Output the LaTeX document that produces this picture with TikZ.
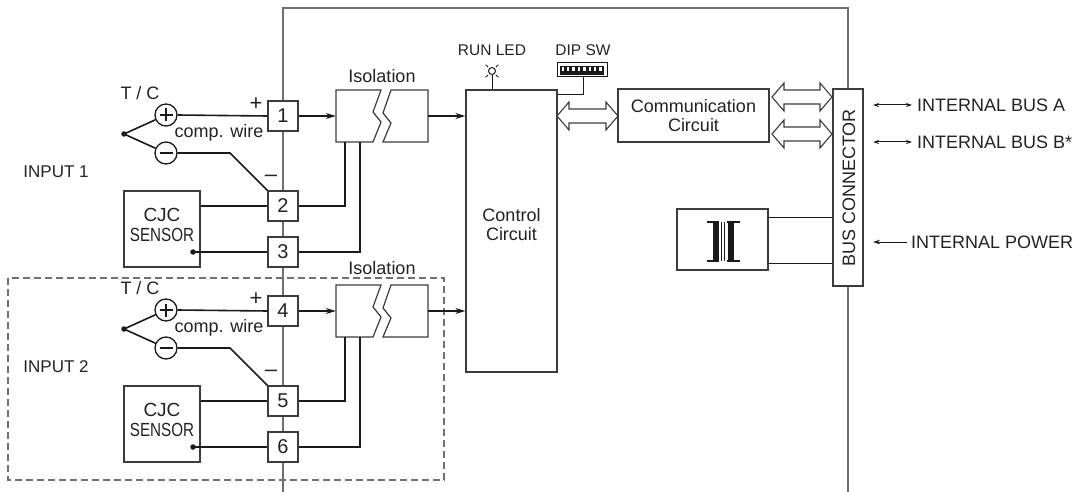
\documentclass[tikz,border=0pt]{standalone}
\usepackage{fontspec}
\setmainfont{Liberation Sans}
\usetikzlibrary{arrows.meta,calc}
\definecolor{boxc}{HTML}{3C3C3C}
\definecolor{wirec}{HTML}{1A1A1A}
\definecolor{framec}{HTML}{707070}
\definecolor{txtc}{HTML}{222222}
\newcommand\hollowdbl[3]{%
  \draw[boxc,line width=1.1pt,fill=white] (#1,#3) -- ++(12,-14) -- ++(0,7) -- ({#2-12},{#3-7}) -- ++(0,-7) -- (#2,#3) -- ++(-12,14) -- ++(0,-7) -- ({#1+12},{#3+7}) -- ++(0,7) -- cycle;}
\begin{document}
\begin{tikzpicture}[x=1pt,y=-1pt,
  box/.style={draw=boxc,line width=1.2pt,fill=white,inner sep=0pt},
  term/.style={box,minimum width=30pt,minimum height=30pt,font=\fontsize{20}{22}\selectfont,text=txtc},
  wire/.style={line width=1.6pt,draw=wirec},
  lbl/.style={font=\fontsize{18}{19}\selectfont,text=txtc,inner sep=0pt},
  small/.style={font=\fontsize{15.5}{17}\selectfont,text=txtc,inner sep=0pt},
  pm/.style={circle,draw=wirec,line width=1.3pt,fill=white,minimum size=22pt,inner sep=0pt},
  jdot/.style={circle,fill=wirec,minimum size=5.5pt,inner sep=0pt},
  arr/.style={line width=1.6pt,draw=wirec,-{Stealth[length=10pt,width=6pt]}},
  thin/.style={line width=1pt,draw=wirec}
]
\useasboundingbox (0,0) rectangle (1079,492);

% frame
\draw[framec,line width=1.4pt] (283,492) -- (283,8) -- (848,8) -- (848,89);
\draw[framec,line width=1.4pt] (848,286) -- (848,492);

% dashed box for input 2
\draw[framec,line width=1.2pt,dash pattern=on 7pt off 4pt] (8,278) rectangle (444,480);

% input labels
\node[lbl,font=\fontsize{17}{18}\selectfont] (in1) at (56,172) {INPUT 1};
\node[lbl,font=\fontsize{17}{18}\selectfont] (in2) at (56,367) {INPUT 2};

\foreach \i/\dy/\a/\b/\c/\ly in {1/0/1/2/3/76, 2/195/4/5/6/73} {
\begin{scope}[shift={(0,\dy)}]
  \node[term] (t\a) at (283,116) {\a};
  \node[term] (t\b) at (283,206) {\b};
  \node[term] (t\c) at (283,252) {\c};
  % thermocouple
  \node[lbl] (tc\i) at (140,93) {T / C};
  \node[pm] (pl\i) at (166,115) {};
  \node[pm] (mi\i) at (166,153) {};
  \draw[wirec,line width=1.3pt] ([xshift=-6.5pt]pl\i.center) -- ([xshift=6.5pt]pl\i.center)
        ([yshift=-6.5pt]pl\i.center) -- ([yshift=6.5pt]pl\i.center);
  \draw[wirec,line width=1.3pt] ([xshift=-6.5pt]mi\i.center) -- ([xshift=6.5pt]mi\i.center);
  \node[jdot] (j\i) at (124,134) {};
  \draw[wire] (j\i.center) -- (pl\i);
  \draw[wire] (j\i.center) -- (mi\i);
  \draw[wire] (pl\i.east) -- (t\a.west);
  \coordinate (bend\i) at (230,153);
  \draw[wire] (mi\i.east) -- (bend\i) -- (t\b.north west);
  \node[lbl] (cw\i) at (219,133) {comp. wire};
  \node[lbl,font=\fontsize{22}{22}\selectfont] (ps\i) at (256,104) {+};
  \node[lbl,font=\fontsize{22}{22}\selectfont] (ms\i) at (271,178) {–};
  % CJC sensor
  \node[box,minimum width=76pt,minimum height=76pt] (cjc\i) at (162,229) {};
  \node[lbl,align=center,font=\fontsize{19}{21}\selectfont] (cjct\i) at (162,225) {CJC\\[-1pt]\scalebox{0.8}[1]{SENSOR}};
  \node[jdot] (cd\i) at (193,252) {};
  \draw[wire] (cjc\i.east |- t\b.west) -- (t\b.west);
  \draw[wire] (cd\i.center) -- (t\c.west);
  % isolation
  \node[minimum width=92pt,minimum height=52pt,inner sep=0pt] (iso\i) at (382,116) {};
  \draw[boxc,line width=1.2pt] (336,90) -- (381,90) -- (373,112) -- (381,122) -- (373,142) -- (336,142) -- cycle;
  \draw[boxc,line width=1.2pt] (391,90) -- (428,90) -- (428,142) -- (383,142) -- (391,123) -- (383,113) -- cycle;
  \node[lbl] (isol\i) at (382,\ly) {Isolation};
  \draw[arr] (t\a.east) -- (iso\i.west);
  \draw[wire] (t\b.east) -| ([xshift=9pt]iso\i.south west);
  \draw[wire] (t\c.east) -| ([xshift=24pt]iso\i.south west);
\end{scope}
}

% control circuit
\node[box,minimum width=91pt,minimum height=282pt] (ctrl) at (511.5,231) {};
\node[lbl,align=center] (ctrlt) at (511.5,225) {Control\\Circuit};
\draw[arr] (iso1.east) -- (ctrl.west |- iso1.east);
\draw[arr] (iso2.east) -- (ctrl.west |- iso2.east);

% RUN LED
\node[small] (runled) at (492,50) {RUN LED};
\node[circle,draw=wirec,line width=1pt,minimum size=7pt,inner sep=0pt] (led) at (492,71) {};
\foreach \ang in {45,135,225,315} \draw[thin] ($(led)+(\ang:5.5)$) -- ($(led)+(\ang:9)$);
\draw[thin] (led.south) -- (led.south |- ctrl.north);

% DIP SW
\node[small] (dipt) at (583,50) {DIP SW};
\node[box,draw=wirec,line width=1pt,minimum width=50pt,minimum height=14pt] (dip) at (582,70) {};
\fill[wirec] (560,66) rectangle (604,75);
\foreach \k in {0,...,7} \fill[white] ({561.5+\k*5.4},67.5) rectangle ({564+\k*5.4},71.5);
\coordinate (dipc) at (583,95);
\draw[thin] (dip.south -| dipc) -- (dipc) -- (ctrl.east |- dipc);

% communication circuit
\node[box,minimum width=151pt,minimum height=53pt,lbl,align=center] (comm) at (693.5,115.5) {Communication\\Circuit};
\hollowdbl{557}{618}{116}

% bus connector
\node[box,minimum width=30pt,minimum height=197pt] (bus) at (848,187.5) {};
\node[lbl,rotate=90] (bust) at (849,188) {BUS CONNECTOR};
\hollowdbl{772}{832}{97}
\hollowdbl{772}{832}{134}

% transformer
\node[box,minimum width=91pt,minimum height=61pt] (trafo) at (722.5,239.5) {};
\fill[wirec] (713,222) rectangle (718.5,261);
\fill[wirec] (728,222) rectangle (733.5,261);
\draw[wirec,line width=1.3pt] (707,222) -- (719,222) (707,261) -- (719,261);
\draw[wirec,line width=1.3pt] (727,222) -- (740,222) (727,261) -- (740,261);
\draw[wirec,line width=0.9pt] (721.5,222) -- (721.5,261) (724.5,222) -- (724.5,261);
\draw[wire,line width=1.4pt] ([yshift=-9pt]trafo.north east) -- ([yshift=-9pt]trafo.north east -| bus.west);
\draw[wire,line width=1.4pt] ([yshift=7pt]trafo.south east) -- ([yshift=7pt]trafo.south east -| bus.west);

% external labels
\node[lbl,anchor=west] (ba) at (917,105) {INTERNAL BUS A};
\node[lbl,anchor=west] (bb) at (917,142) {INTERNAL BUS B*};
\node[lbl,anchor=west] (ip) at (911,242) {INTERNAL POWER};
\coordinate (baa) at (873,105);
\coordinate (bba) at (873,142);
\coordinate (ipa) at (873,242);
\draw[thin,{Stealth[length=6pt,width=4pt]}-{Stealth[length=6pt,width=4pt]}] (baa) -- ([xshift=-5pt]ba.west);
\draw[thin,{Stealth[length=6pt,width=4pt]}-{Stealth[length=6pt,width=4pt]}] (bba) -- ([xshift=-5pt]bb.west);
\draw[thin,{Stealth[length=7pt,width=4.5pt]}-] (ipa) -- ([xshift=-4pt]ip.west);
\end{tikzpicture}
\end{document}
